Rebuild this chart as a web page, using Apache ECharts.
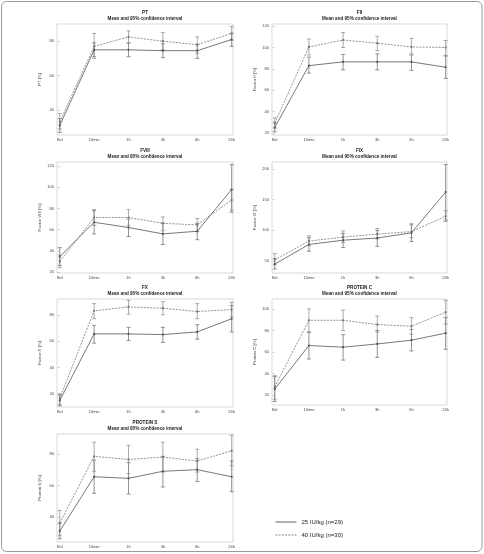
<!doctype html>
<html>
<head>
    <meta charset="utf-8">
    <title>Coagulation factors</title>
    <script src="https://cdn.jsdelivr.net/npm/echarts@6/dist/echarts.min.js"></script>
</head>
<body style="margin:0;background:#fff">
    <div id="container" style="width:484px;height:554px;"></div>
    <script type="text/javascript">
        // time points
        var timeLabels = ['Bsl', '10min', '1h', '3h', '6h', '24h'];
        var seriesNames = ['25 IU/kg (n=29)', '40 IU/kg (n=30)'];

        // PT
        var ptMean25 = [31, 75, 75, 74.5, 74.5, 81];
        var ptCi25 = [[27, 35], [71, 79], [71, 79], [70.5, 78.5], [70, 78], [77, 84.5]];
        var ptMean40 = [33, 77, 82.5, 80, 78, 84.5];
        var ptCi40 = [[29, 38], [70, 84.5], [79, 86], [75, 85], [73, 82.5], [80.5, 88.5]];
        var ptTicks = [40, 60, 80];

        // FII
        var f2Mean25 = [25, 83, 86.5, 86.5, 86.5, 81.5];
        var f2Ci25 = [[21, 30], [76, 91], [79, 93.5], [79, 94], [78.5, 93], [71, 92]];
        var f2Mean40 = [29, 100.5, 107, 104, 100.5, 100];
        var f2Ci40 = [[24.5, 34], [93, 108], [100, 114], [97, 110.5], [94, 108.5], [92.5, 106.5]];
        var f2Ticks = [20, 40, 60, 80, 100, 120];

        // FVIII
        var f8Mean25 = [34.5, 67, 62, 56, 58.5, 98];
        var f8Ci25 = [[26, 43], [56, 78], [53.5, 70], [46, 66], [50.5, 66], [76.5, 121.5]];
        var f8Mean40 = [30, 71.5, 71.5, 66, 64.5, 88];
        var f8Ci40 = [[24, 36], [64, 79], [64, 79], [59, 72], [58, 70.5], [78.5, 98]];
        var f8Ticks = [20, 40, 60, 80, 100, 120];

        // FIX
        var f9Mean25 = [45, 77, 84, 87.5, 96, 162.5];
        var f9Ci25 = [[37, 54], [66, 88], [72, 95], [74, 100], [82, 109], [117, 207.5]];
        var f9Mean40 = [52, 82.5, 89, 94, 98, 123];
        var f9Ci40 = [[44, 62], [75, 91], [80, 99], [86, 103], [88, 111], [114.5, 132]];
        var f9Ticks = [50, 100, 150, 200];

        // FX
        var f10Mean25 = [15, 65.5, 65.5, 65, 67, 77];
        var f10Ci25 = [[11, 19], [58.5, 72], [60.5, 70.5], [59, 70.5], [61.5, 72.5], [67, 87]];
        var f10Mean40 = [16.5, 83, 86, 85, 82.5, 84];
        var f10Ci40 = [[12, 20], [77, 88.5], [80.5, 91], [80, 90], [77, 88.5], [78.5, 89.5]];
        var f10Ticks = [20, 40, 60, 80];

        // PROTEIN C
        var pcMean25 = [25.5, 66, 64.5, 67.5, 71, 77.5];
        var pcCi25 = [[14, 37], [53.5, 78], [52.5, 76], [55, 80], [61, 81], [62.5, 92]];
        var pcMean40 = [27.5, 89.5, 89.5, 85.5, 84, 97];
        var pcCi40 = [[16, 38], [79, 100], [80, 99], [78.5, 93.5], [76.5, 92], [86, 108]];
        var pcTicks = [20, 40, 60, 80, 100];

        // PROTEIN S
        var psMean25 = [31, 65.5, 64.5, 69, 70, 65.5];
        var psCi25 = [[26, 36], [55, 76], [54.5, 74.5], [59, 78.5], [62.5, 77], [56, 75.5]];
        var psMean40 = [36, 78.5, 76.5, 78, 75.5, 82];
        var psCi40 = [[28, 44], [69, 87.5], [67.5, 85.5], [68.5, 87.5], [68.5, 83], [72.5, 92]];
        var psTicks = [40, 60, 80];

        // panel layout (pixels) + axis range
        var panels = [
            { title: 'PT', yName: 'PT [%]', left: 57, top: 24, width: 176, height: 111, min: 25.5, max: 90, ticks: ptTicks, m25: ptMean25, c25: ptCi25, m40: ptMean40, c40: ptCi40 },
            { title: 'FII', yName: 'Factor II [%]', left: 272, top: 24, width: 175, height: 111, min: 18, max: 122, ticks: f2Ticks, m25: f2Mean25, c25: f2Ci25, m40: f2Mean40, c40: f2Ci40 },
            { title: 'FVIII', yName: 'Factor VIII [%]', left: 57, top: 162, width: 176, height: 111, min: 19, max: 124, ticks: f8Ticks, m25: f8Mean25, c25: f8Ci25, m40: f8Mean40, c40: f8Ci40 },
            { title: 'FIX', yName: 'Factor IX [%]', left: 272, top: 162, width: 175, height: 111, min: 30.5, max: 211.5, ticks: f9Ticks, m25: f9Mean25, c25: f9Ci25, m40: f9Mean40, c40: f9Ci40 },
            { title: 'FX', yName: 'Factor X [%]', left: 57, top: 299, width: 176, height: 108, min: 10, max: 92, ticks: f10Ticks, m25: f10Mean25, c25: f10Ci25, m40: f10Mean40, c40: f10Ci40 },
            { title: 'PROTEIN C', yName: 'Protein C [%]', left: 272, top: 299, width: 175, height: 106, min: 10.7, max: 109.3, ticks: pcTicks, m25: pcMean25, c25: pcCi25, m40: pcMean40, c40: pcCi40 },
            { title: 'PROTEIN S', yName: 'Protein S [%]', left: 57, top: 434, width: 176, height: 108, min: 24, max: 92.7, ticks: psTicks, m25: psMean25, c25: psCi25, m40: psMean40, c40: psCi40 }
        ];

        var font = 'Liberation Sans, Arial, sans-serif';

        // vertical CI bar with small caps
        function errRender(params, api) {
            var x = api.value(0);
            var lo = api.coord([x, api.value(1)]);
            var hi = api.coord([x, api.value(2)]);
            var st = { stroke: api.visual('color'), lineWidth: 0.7 };
            return {
                type: 'group',
                children: [
                    { type: 'line', shape: { x1: lo[0], y1: lo[1], x2: hi[0], y2: hi[1] }, style: st },
                    { type: 'line', shape: { x1: lo[0] - 2, y1: lo[1], x2: lo[0] + 2, y2: lo[1] }, style: st },
                    { type: 'line', shape: { x1: hi[0] - 2, y1: hi[1], x2: hi[0] + 2, y2: hi[1] }, style: st }
                ]
            };
        }

        var titles = [], grids = [], xAxes = [], yAxes = [], series = [];
        panels.forEach(function (p, i) {
            var cx = p.left + p.width / 2;
            titles.push({
                text: p.title,
                subtext: 'Mean and 95% confidence interval',
                left: cx, top: p.top - 14, textAlign: 'center',
                padding: 0, itemGap: 1.5,
                textStyle: { fontSize: 4.6, fontWeight: 'bold', color: '#222', fontFamily: font },
                subtextStyle: { fontSize: 4.6, fontWeight: 'bold', color: '#222', fontFamily: font }
            });
            grids.push({
                left: p.left, top: p.top, width: p.width, height: p.height,
                show: true, borderColor: '#c8c8c8', borderWidth: 0.7
            });
            xAxes.push({
                type: 'value', gridIndex: i, min: -0.08, max: 5.04,
                axisLine: { show: false }, splitLine: { show: false },
                axisTick: { show: false },
                axisLabel: {
                    customValues: [0, 1, 2, 3, 4, 5], margin: 3,
                    fontSize: 4, color: '#444', fontFamily: font,
                    formatter: function (v) { return timeLabels[Math.round(v)]; }
                }
            });
            yAxes.push({
                type: 'value', gridIndex: i, min: p.min, max: p.max,
                name: p.yName, nameLocation: 'middle', nameGap: 15,
                nameTextStyle: { fontSize: 4.4, color: '#444', fontFamily: font },
                axisLine: { show: false }, splitLine: { show: false },
                axisTick: { show: true, length: 2, customValues: p.ticks, lineStyle: { color: '#aaa', width: 0.6 } },
                axisLabel: { customValues: p.ticks, margin: 3, fontSize: 4, color: '#444', fontFamily: font }
            });
            var groups = [[p.m25, p.c25, 'solid', '#555', '#666'], [p.m40, p.c40, 'dashed', '#777', '#888']];
            groups.forEach(function (g, k) {
                series.push({
                    name: seriesNames[k], type: 'line', xAxisIndex: i, yAxisIndex: i,
                    data: g[0].map(function (v, j) { return [j, v]; }),
                    symbol: 'circle', symbolSize: 2.2, z: 3,
                    itemStyle: { color: g[3] },
                    lineStyle: { color: g[3], width: 0.8, type: g[2] === 'dashed' ? [2, 1.2] : 'solid' },
                    animation: false
                });
                series.push({
                    name: 'ci' + k, type: 'custom', xAxisIndex: i, yAxisIndex: i,
                    renderItem: errRender,
                    itemStyle: { color: g[4] },
                    data: g[1].map(function (c, j) { return [j, c[0], c[1]]; }),
                    z: 2, animation: false, silent: true
                });
            });
        });

        var option = {
            backgroundColor: '#fff',
            animation: false,
            title: titles,
            grid: grids,
            xAxis: xAxes,
            yAxis: yAxes,
            legend: {
                data: seriesNames, orient: 'vertical', left: 275, top: 519,
                padding: 0, itemWidth: 21, itemHeight: 6, itemGap: 7,
                itemStyle: { opacity: 0 },
                lineStyle: { width: 0.9 },
                textStyle: { fontSize: 6, color: '#222', fontFamily: font }
            },
            graphic: [{
                type: 'rect', shape: { x: 1.5, y: 1.5, width: 480.5, height: 550, r: 5 },
                style: { fill: 'none', stroke: '#999', lineWidth: 1 }
            }],
            series: series
        };

        var myChart = echarts.init(document.getElementById('container'));
        myChart.setOption(option);
    </script>
</body>
</html>
